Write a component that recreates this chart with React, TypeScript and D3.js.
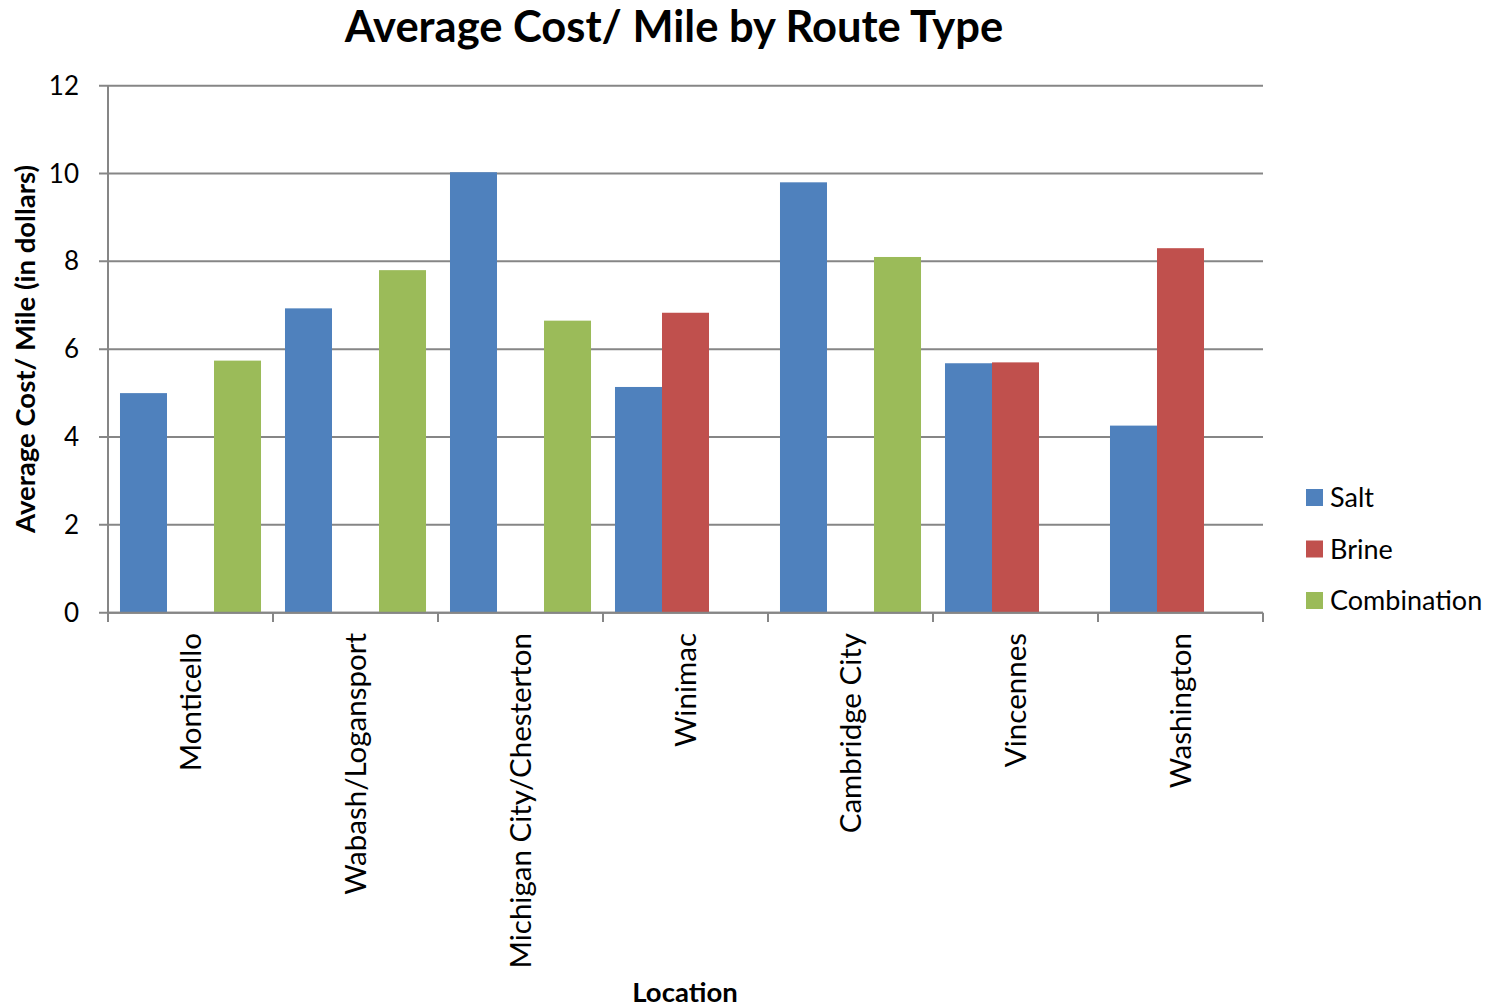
import React from "react";
import * as d3 from "d3";

const categories = [
  "Monticello",
  "Wabash/Logansport",
  "Michigan City/Chesterton",
  "Winimac",
  "Cambridge City",
  "Vincennes",
  "Washington",
];
const seriesNames = ["Salt", "Brine", "Combination"];
const saltValues: (number | null)[] = [5.0, 6.93, 10.03, 5.14, 9.8, 5.68, 4.26];
const brineValues: (number | null)[] = [null, null, null, 6.83, null, 5.7, 8.3];
const combinationValues: (number | null)[] = [5.74, 7.8, 6.65, null, 8.1, null, null];
const yTicks = [0, 2, 4, 6, 8, 10, 12];
const colors = ["#4F81BD", "#C0504D", "#9BBB59"];

const W = 1491;
const H = 1007;
const FONT = "Lato, 'Noto Sans', sans-serif";

export default function App() {
  const left = 108;
  const right = 1263;
  const top = 85.7;
  const bottom = 612.7;
  const x = d3.scaleBand<string>().domain(categories).range([left, right]).paddingInner(0).paddingOuter(0);
  const inner = d3.scaleBand<string>().domain(seriesNames).range([0, x.bandwidth()]).paddingInner(0).paddingOuter(0.255);
  const y = d3.scaleLinear().domain([0, 12]).range([bottom, top]);
  const all = [saltValues, brineValues, combinationValues];

  return (
    <svg width={W} height={H} style={{ display: "block", position: "absolute", left: 0, top: 0 }} fontFamily={FONT}>
      <rect width={W} height={H} fill="#fff" />
      <text x={674} y={42} textAnchor="middle" fontWeight="bold" fontSize={43.5} fill="#000">
        Average Cost/ Mile by Route Type
      </text>
      {yTicks.map((t) => (
        <g key={t}>
          <line x1={99} x2={right} y1={y(t)} y2={y(t)} stroke="#868686" strokeWidth={2} />
          <text x={79} y={y(t) + 9} textAnchor="end" fontSize={26} fill="#000">
            {t}
          </text>
        </g>
      ))}
      {all.map((vals, si) =>
        vals.map((v, ci) =>
          v == null ? null : (
            <rect
              key={si + "-" + ci}
              x={(x(categories[ci]) as number) + (inner(seriesNames[si]) as number)}
              width={inner.bandwidth()}
              y={y(v)}
              height={y(0) - y(v)}
              fill={colors[si]}
            />
          )
        )
      )}
      <line x1={left} x2={left} y1={top} y2={bottom} stroke="#868686" strokeWidth={2} />
      <line x1={left} x2={right} y1={bottom} y2={bottom} stroke="#868686" strokeWidth={2} />
      {categories.concat([""]).map((c, i) => {
        const xx = left + i * x.bandwidth();
        return <line key={"t" + i} x1={xx} x2={xx} y1={bottom} y2={622} stroke="#868686" strokeWidth={2} />;
      })}
      {categories.map((c) => {
        const cx = (x(c) as number) + x.bandwidth() / 2;
        return (
          <text
            key={c}
            transform={`translate(${cx + 10},633) rotate(-90)`}
            textAnchor="end"
            fontSize={29.5}
            fill="#000"
          >
            {c}
          </text>
        );
      })}
      <text transform={`translate(35,349) rotate(-90)`} textAnchor="middle" fontWeight="bold" fontSize={27.5} fill="#000">
        Average Cost/ Mile (in dollars)
      </text>
      <text x={685} y={1002} textAnchor="middle" fontWeight="bold" fontSize={27.5} fill="#000">
        Location
      </text>
      {seriesNames.map((s, i) => (
        <g key={s} transform={`translate(1306,${489 + i * 51.5})`}>
          <rect width={17} height={17} fill={colors[i]} />
          <text x={24} y={18} fontSize={27} fill="#000">
            {s}
          </text>
        </g>
      ))}
    </svg>
  );
}
